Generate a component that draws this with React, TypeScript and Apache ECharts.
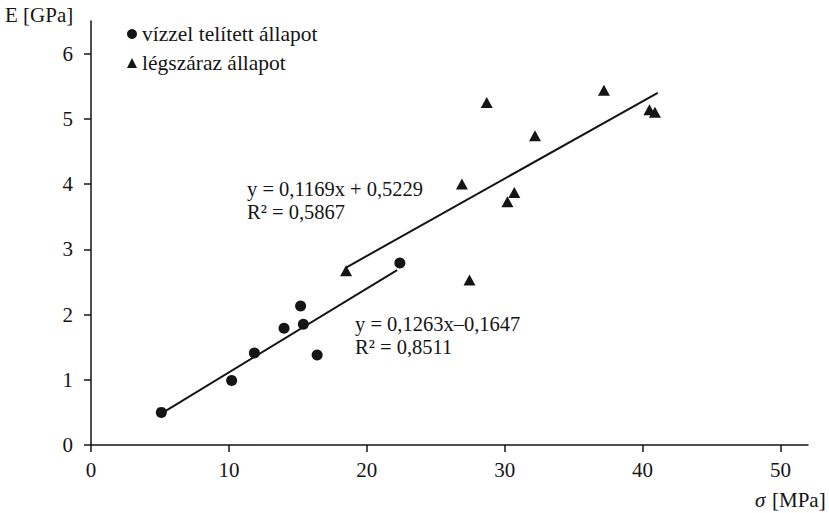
import React, { useEffect, useRef } from "react";
import * as echarts from "echarts";

const xTicks = [0, 10, 20, 30, 40, 50];
const yTicks = [0, 1, 2, 3, 4, 5, 6];

const saturatedName = "vízzel telített állapot";
const airDryName = "légszáraz állapot";

// [sigma MPa, E GPa]
const saturatedPoints = [
  [5.1, 0.5],
  [10.2, 0.99],
  [11.85, 1.41],
  [14.0, 1.79],
  [15.2, 2.13],
  [15.4, 1.85],
  [16.4, 1.38],
  [22.4, 2.79],
];

const airDryPoints = [
  [18.5, 2.67],
  [27.45, 2.53],
  [26.9, 4.0],
  [28.7, 5.25],
  [32.2, 4.74],
  [30.7, 3.87],
  [30.2, 3.73],
  [37.2, 5.44],
  [40.5, 5.14],
  [40.9, 5.1],
];

// trend line end points
const saturatedTrend = [
  [5.0, 0.47],
  [22.2, 2.68],
];
const airDryTrend = [
  [18.5, 2.72],
  [41.1, 5.4],
];

const saturatedEq = ["y = 0,1263x–0,1647", "R² = 0,8511"];
const airDryEq = ["y = 0,1169x + 0,5229", "R² = 0,5867"];

const FONT = "Liberation Serif";
const INK = "#151515";

export default function App() {
  const ref = useRef<HTMLDivElement>(null);
  useEffect(() => {
    if (!ref.current) return;
    const chart = echarts.init(ref.current, undefined, { renderer: "svg" });
    const ts = { fill: INK, fontFamily: FONT, fontSize: 21 };
    const eq = { fill: INK, fontFamily: FONT, fontSize: 20.5, lineHeight: 21 };
    chart.setOption({
      animation: false,
      backgroundColor: "#ffffff",
      textStyle: { fontFamily: FONT },
      grid: { left: 91, right: 21, top: 21, bottom: 68, containLabel: false },
      legend: {
        data: [
          { name: saturatedName, icon: "circle" },
          { name: airDryName, icon: "triangle" },
        ],
        orient: "vertical",
        left: 122,
        top: 18,
        itemWidth: 10,
        itemHeight: 10,
        itemGap: 7,
        textStyle: { fontFamily: FONT, fontSize: 21.5, color: INK },
      },
      xAxis: {
        type: "value",
        min: 0,
        max: 52,
        splitLine: { show: false },
        axisLine: { onZero: false, lineStyle: { color: INK, width: 1.5 } },
        axisTick: { show: true, length: 7, customValues: xTicks, lineStyle: { color: INK, width: 1.5 } },
        axisLabel: { customValues: xTicks, margin: 14, fontFamily: FONT, fontSize: 21, color: INK },
      },
      yAxis: {
        type: "value",
        min: 0,
        max: 6.5,
        splitLine: { show: false },
        axisLine: { onZero: false, lineStyle: { color: INK, width: 1.5 } },
        axisTick: { show: true, length: 7, customValues: yTicks, lineStyle: { color: INK, width: 1.5 } },
        axisLabel: { customValues: yTicks, margin: 18, fontFamily: FONT, fontSize: 21, color: INK },
      },
      series: [
        {
          type: "line",
          data: saturatedTrend,
          symbol: "none",
          lineStyle: { color: INK, width: 2 },
          silent: true,
        },
        {
          type: "line",
          data: airDryTrend,
          symbol: "none",
          lineStyle: { color: INK, width: 2 },
          silent: true,
        },
        {
          name: saturatedName,
          type: "scatter",
          data: saturatedPoints,
          symbol: "circle",
          symbolSize: 11,
          itemStyle: { color: INK, opacity: 1 },
        },
        {
          name: airDryName,
          type: "scatter",
          data: airDryPoints,
          symbol: "triangle",
          symbolSize: [12, 11],
          itemStyle: { color: INK, opacity: 1 },
        },
      ],
      graphic: [
        { type: "text", left: 5, top: 4, style: { ...ts, text: "E [GPa]" } },
        { type: "text", left: 755, top: 489, style: { ...ts, text: "σ", fontStyle: "italic" } },
        { type: "text", left: 772, top: 489, style: { ...ts, text: "[MPa]" } },
        { type: "text", left: 247, top: 178, style: { ...eq, text: airDryEq[0] } },
        { type: "text", left: 247, top: 201, style: { ...eq, text: airDryEq[1] } },
        { type: "text", left: 355, top: 313, style: { ...eq, text: saturatedEq[0] } },
        { type: "text", left: 355, top: 336, style: { ...eq, text: saturatedEq[1] } },
      ],
    });
    return () => chart.dispose();
  }, []);
  return (
    <div
      ref={ref}
      style={{ position: "fixed", left: 0, top: 0, width: 829, height: 513 }}
    />
  );
}
